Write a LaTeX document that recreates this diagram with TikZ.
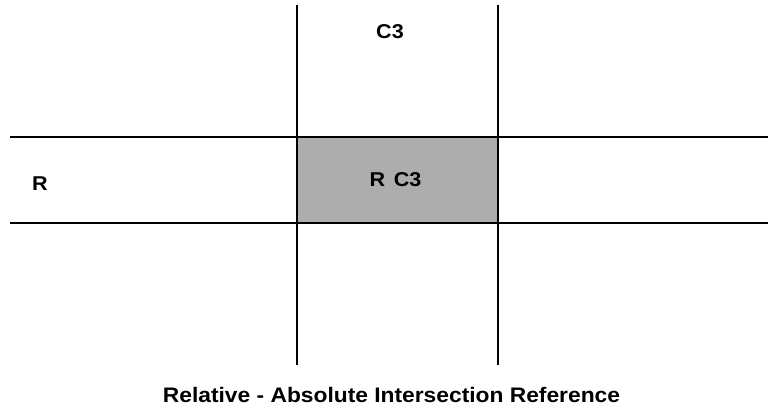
\documentclass[tikz,border=0pt]{standalone}
\usepackage{fontspec}
\setmainfont{Liberation Sans}
\begin{document}
\begin{tikzpicture}[x=1pt,y=-1pt,
  gridline/.style={line width=1.6pt,black},
  lbl/.style={font=\bfseries\fontsize{20}{24}\selectfont,inner sep=0pt}]
\useasboundingbox (0,0) rectangle (768,407);
% shaded cell at the crossing of row R and column C3
\fill[black!32] (297,137) rectangle (498,223);
% column C3 boundaries
\coordinate (c1t) at (297,5);   \coordinate (c1b) at (297,365);
\coordinate (c2t) at (498,5);   \coordinate (c2b) at (498,365);
% row R boundaries
\coordinate (r1l) at (10,137);  \coordinate (r1r) at (768,137);
\coordinate (r2l) at (10,223);  \coordinate (r2r) at (768,223);
\draw[gridline] (r1l) -- (r1r);
\draw[gridline] (r2l) -- (r2r);
\draw[gridline,line width=1.3pt] (c1t) -- (c1b);
\draw[gridline,line width=1.3pt] (c2t) -- (c2b);
% labels (slightly widened lettering)
\node[lbl] (col) at (390,32) {\scalebox{1.08}[1]{C3}};
\node[lbl] (row) at (40,183.5) {\scalebox{1.08}[1]{R}};
\node[lbl] (cell) at (395.5,180) {\scalebox{1.08}[1]{R\hspace{0.4em}C3}};
\node[lbl,font=\bfseries\fontsize{21}{25}\selectfont] (cap) at (391.5,394.5) {\scalebox{1.085}[1]{Relative - Absolute Intersection Reference}};
\end{tikzpicture}
\end{document}
